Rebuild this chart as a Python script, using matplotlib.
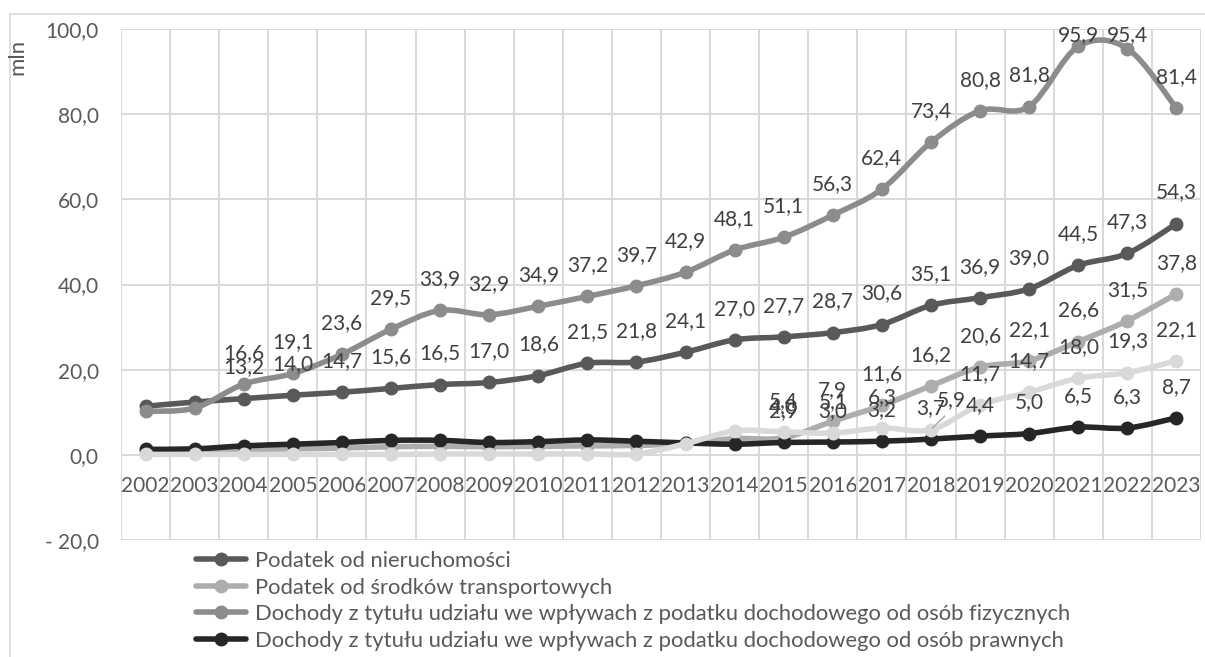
import numpy as np
import matplotlib
matplotlib.use('Agg')
import matplotlib.pyplot as plt
from matplotlib.path import Path
from matplotlib.patches import PathPatch, Rectangle
from matplotlib.lines import Line2D

plt.rcParams['font.family'] = ['Lato', 'DejaVu Sans']

years = [str(y) for y in range(2002, 2024)]

nieruchomosci = [11.4, 12.4, 13.2, 14.0, 14.7, 15.6, 16.5, 17.0, 18.6, 21.5, 21.8,
                 24.1, 27.0, 27.7, 28.7, 30.6, 35.1, 36.9, 39.0, 44.5, 47.3, 54.3]
transport = [0.8, 0.9, 1.2, 1.4, 1.6, 1.9, 2.0, 1.9, 2.0, 2.1, 2.2,
             2.7, 3.8, 4.0, 7.9, 11.6, 16.2, 20.6, 22.1, 26.6, 31.5, 37.8]
pit = [10.2, 11.0, 16.6, 19.1, 23.6, 29.5, 33.9, 32.9, 34.9, 37.2, 39.7,
       42.9, 48.1, 51.1, 56.3, 62.4, 73.4, 80.8, 81.8, 95.9, 95.4, 81.4]
cit = [1.3, 1.4, 2.1, 2.5, 2.9, 3.4, 3.4, 2.9, 3.1, 3.5, 3.2,
       2.8, 2.5, 2.9, 3.0, 3.2, 3.7, 4.4, 5.0, 6.5, 6.3, 8.7]
inne = [0.1, 0.1, 0.1, 0.1, 0.1, 0.1, 0.2, 0.2, 0.2, 0.2, 0.2,
        2.6, 5.6, 5.4, 5.1, 6.3, 5.9, 11.7, 14.7, 18.0, 19.3, 22.1]

y_ticks = [-20, 0, 20, 40, 60, 80, 100]
y_tick_labels = ['- 20,0', '0,0', '20,0', '40,0', '60,0', '80,0', '100,0']

legend_names = ['Podatek od nieruchomości',
                'Podatek od środków transportowych',
                'Dochody z tytułu udziału we wpływach z podatku dochodowego od osób fizycznych',
                'Dochody z tytułu udziału we wpływach z podatku dochodowego od osób prawnych']

# (values, colour, first labelled index, legend name or None)
series = [
    (nieruchomosci, '#595959', 2, legend_names[0]),
    (transport, '#ADADAD', 13, legend_names[1]),
    (pit, '#8C8C8C', 2, legend_names[2]),
    (cit, '#262626', 13, legend_names[3]),
    (inne, '#D9D9D9', 13, None),
]

GRID = '#D9D9D9'
TXT = '#404040'
FS = 15


def smooth_path(xs, ys):
    # Excel-like smoothed line (Catmull-Rom as cubic Bezier)
    pts = np.column_stack([xs, ys]).astype(float)
    n = len(pts)
    verts = [pts[0]]
    codes = [Path.MOVETO]
    for i in range(n - 1):
        p0 = pts[max(i - 1, 0)]
        p1 = pts[i]
        p2 = pts[i + 1]
        p3 = pts[min(i + 2, n - 1)]
        verts += [p1 + (p2 - p0) / 6, p2 - (p3 - p1) / 6, p2]
        codes += [Path.CURVE4] * 3
    return Path(verts, codes)


W, H = 1205, 657
fig = plt.figure(figsize=(W / 100, H / 100), dpi=100)
fig.patches.append(Rectangle((10 / W, -0.1), 1.2, 1 - 14 / H + 0.1, transform=fig.transFigure,
                             facecolor='none', edgecolor=GRID, lw=1.2))
ax = fig.add_axes([121 / W, 1 - 540 / H, 1080 / W, 511 / H])

x = np.arange(len(years))
ax.set_xlim(-0.5, len(years) - 0.5)
ax.set_ylim(-20, 100)

z = 3
for vals, col, first, name in series:
    ax.add_patch(PathPatch(smooth_path(x, vals), facecolor='none', edgecolor=col,
                           lw=4, capstyle='round', joinstyle='round', zorder=z))
    ax.plot(x, vals, 'o', color=col, markersize=9, zorder=z + 0.5)
    z += 1

# data labels above points, kept inside the chart at the top
for vals, col, first, name in series:
    for i in range(first, len(vals)):
        v = vals[i]
        lx, ly = x[i], min(v + 7.3, 98.6)
        if vals is inne and years[i] == '2018':
            lx, ly = x[i] + 0.42, v + 7.0
            ax.plot([x[i] + 0.28, x[i] + 0.03], [v + 3.2, v + 0.4], color='#A6A6A6', lw=1, zorder=20)
        ax.text(lx, ly, f'{v:.1f}'.replace('.', ','), ha='center', va='center',
                fontsize=FS, color=TXT, zorder=30)

ax.set_yticks(y_ticks)
ax.set_yticklabels(y_tick_labels)
ax.set_xticks(x)
ax.set_xticklabels(years)
ax.set_xticks(np.arange(-0.5, len(years), 1), minor=True)
ax.grid(axis='y', which='major', color=GRID, lw=1.4, zorder=0)
ax.grid(axis='x', which='minor', color=GRID, lw=1.4, zorder=0)
ax.grid(axis='x', which='major', visible=False)
ax.set_axisbelow(True)
for s in ax.spines.values():
    s.set_visible(False)
ax.spines['bottom'].set_position(('data', 0))
ax.tick_params(axis='both', which='both', length=0, labelsize=FS, labelcolor='#595959')
ax.tick_params(axis='x', pad=15)
ax.tick_params(axis='y', pad=16)

fig.text(17 / W, 1 - 57 / H, 'mln', rotation=90, ha='center', va='center',
         fontsize=FS + 1, color='#595959')

handles = [Line2D([], [], color=col, lw=4, marker='o', markersize=9, solid_capstyle='round')
           for vals, col, first, name in series if name]
labels = [name for vals, col, first, name in series if name]
fig.legend(handles, labels, loc='upper left', bbox_to_anchor=(196 / W, 1 - 551 / H),
           frameon=False, fontsize=15.8, labelcolor='#595959', borderpad=0, borderaxespad=0,
           handlelength=2.3, handletextpad=0.4, labelspacing=0.3)

fig.savefig('out.png', dpi=100)
